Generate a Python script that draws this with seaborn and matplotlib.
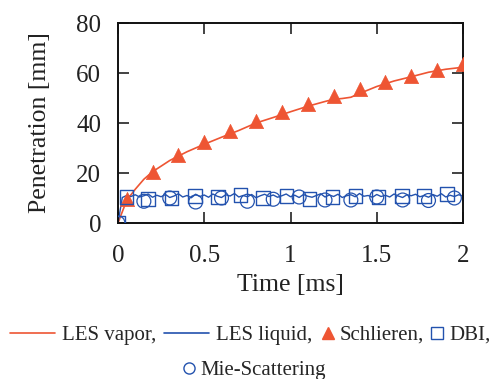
import numpy as np
import pandas as pd
import matplotlib
matplotlib.use('agg')
import seaborn as sns
import matplotlib.pyplot as plt
from matplotlib.lines import Line2D

RED = '#EE5533'
BLUE = '#2352AE'

# LES vapor penetration
t_vap = [0.0, 0.05, 0.1, 0.15, 0.2, 0.3, 0.4, 0.5, 0.6, 0.7, 0.8, 0.9, 1.0,
         1.1, 1.2, 1.25, 1.3, 1.35, 1.4, 1.5, 1.6, 1.7, 1.8, 1.9, 2.0]
les_vap = [0.0, 9.0, 13.5, 17.5, 20.5, 25.0, 28.5, 31.5, 34.3, 37.0, 40.0, 42.2, 44.5,
           46.7, 48.6, 49.5, 49.8, 50.3, 51.8, 54.6, 56.8, 58.5, 60.3, 61.5, 62.3]

# LES liquid penetration (noisy, sampled every 0.025 ms)
les_liq = [0.0, 10.2, 11.0, 10.6, 11.3, 10.4, 10.9, 11.6, 10.3, 11.1, 10.5,
           11.4, 10.2, 10.8, 11.7, 10.4, 11.0, 10.1, 11.5, 10.6, 11.2,
           10.3, 11.6, 10.7, 10.2, 11.3, 10.8, 11.8, 10.4, 11.0, 10.5,
           11.4, 10.1, 10.9, 11.5, 10.6, 11.2, 10.3, 10.9, 11.6, 10.5,
           11.1, 10.2, 11.4, 10.7, 10.3, 11.0, 11.7, 10.4, 11.2, 10.6,
           11.5, 10.2, 10.9, 11.3, 10.5, 11.8, 10.7, 11.0, 10.3, 11.4,
           10.6, 11.1, 10.4, 11.6, 10.8, 10.2, 11.3, 10.9, 11.5, 10.5,
           11.0, 10.3, 11.4, 10.7, 11.7, 10.4, 11.1, 10.6, 11.3, 10.8]
t_liq = np.linspace(0, 2, len(les_liq))

# Schlieren
t_sch = [0.05, 0.2, 0.35, 0.5, 0.65, 0.8, 0.95, 1.1, 1.25, 1.4, 1.55, 1.7, 1.85, 2.0]
schlieren = [9.5, 20.3, 27.2, 32.3, 36.9, 41.0, 44.5, 47.8, 50.8, 53.8, 56.5, 58.9, 61.2, 63.5]

# DBI
t_dbi = [0.0, 0.048, 0.174, 0.31, 0.445, 0.58, 0.71, 0.84, 0.978, 1.11,
         1.243, 1.378, 1.51, 1.646, 1.775, 1.907]
dbi = [0.0, 10.4, 9.6, 10.1, 10.7, 10.4, 11.3, 10.1, 10.9, 9.6,
       10.4, 10.7, 10.4, 10.9, 10.7, 11.7]

# Mie-Scattering
t_mie = [0.0, 0.15, 0.3, 0.45, 0.6, 0.75, 0.9, 1.05, 1.2, 1.35, 1.5, 1.65, 1.8, 1.95]
mie = [0.0, 8.7, 10.0, 8.4, 10.0, 8.7, 9.5, 10.4, 9.2, 9.2, 10.4, 9.2, 9.0, 10.0]

sns.set_style("ticks")
plt.rcParams['font.family'] = ['Liberation Serif', 'DejaVu Serif']

fig = plt.figure(figsize=(4.9, 3.79), dpi=100)
ax = fig.add_axes([118 / 490, 1 - 223 / 379, 345 / 490, 200 / 379])

sns.lineplot(x=t_vap, y=les_vap, color=RED, lw=1.2, ax=ax)
sns.lineplot(x=t_liq, y=les_liq, color=BLUE, lw=1.0, ax=ax)
sns.scatterplot(x=t_sch, y=schlieren, marker='^', s=105, color=RED,
                edgecolor=RED, linewidth=0.5, ax=ax, zorder=3)
sns.scatterplot(x=t_dbi, y=dbi, marker='s', s=95, facecolor='none',
                edgecolor=BLUE, linewidth=1.0, ax=ax, zorder=3)
sns.scatterplot(x=t_mie, y=mie, marker='o', s=100, facecolor='none',
                edgecolor=BLUE, linewidth=0.9, ax=ax, zorder=3)

ax.set_xlim(0, 2)
ax.set_ylim(0, 80)
ax.set_xticks([0, 0.5, 1, 1.5, 2])
ax.set_xticklabels(['0', '0.5', '1', '1.5', '2'])
ax.set_yticks([0, 20, 40, 60, 80])
ax.tick_params(direction='in', top=True, right=True, length=8, width=1.2,
               labelsize=18, colors='#222222', labelcolor='#222222')
ax.tick_params(axis='x', pad=16)
ax.tick_params(axis='y', pad=12)
for sp in ax.spines.values():
    sp.set_linewidth(1.4)
    sp.set_color('#111111')
    sp.set_visible(True)
ax.set_xlabel('Time [ms]', fontsize=18.5, labelpad=5, color='#222222')
ax.set_ylabel('Penetration [mm]', fontsize=18.5, labelpad=18, color='#222222')

FS = 15
lines_h = [Line2D([], [], color=RED, lw=1.2),
           Line2D([], [], color=BLUE, lw=1.2)]
fig.legend(lines_h, ['LES vapor,', 'LES liquid,'], loc='center left',
           bbox_to_anchor=(10 / 490, 1 - 335 / 379), ncol=2, frameon=False,
           fontsize=FS, handlelength=2.15, handletextpad=0.33,
           columnspacing=0.4, borderpad=0, borderaxespad=0)
mark_h = [Line2D([], [], ls='none', marker='^', color=RED, markersize=8),
          Line2D([], [], ls='none', marker='s', markerfacecolor='none',
                 markeredgecolor=BLUE, markersize=8)]
fig.legend(mark_h, ['Schlieren,', 'DBI,'], loc='center left',
           bbox_to_anchor=(322 / 490, 1 - 335 / 379), ncol=2, frameon=False,
           fontsize=FS, handlelength=0.55, handletextpad=0.3,
           columnspacing=0.35, borderpad=0, borderaxespad=0)
mie_h = [Line2D([], [], ls='none', marker='o', markerfacecolor='none',
                markeredgecolor=BLUE, markersize=8)]
fig.legend(mie_h, ['Mie-Scattering'], loc='center left',
           bbox_to_anchor=(183 / 490, 1 - 370 / 379), frameon=False,
           fontsize=FS, handlelength=0.55, handletextpad=0.3,
           borderpad=0, borderaxespad=0)

fig.savefig('out.png', dpi=100)
